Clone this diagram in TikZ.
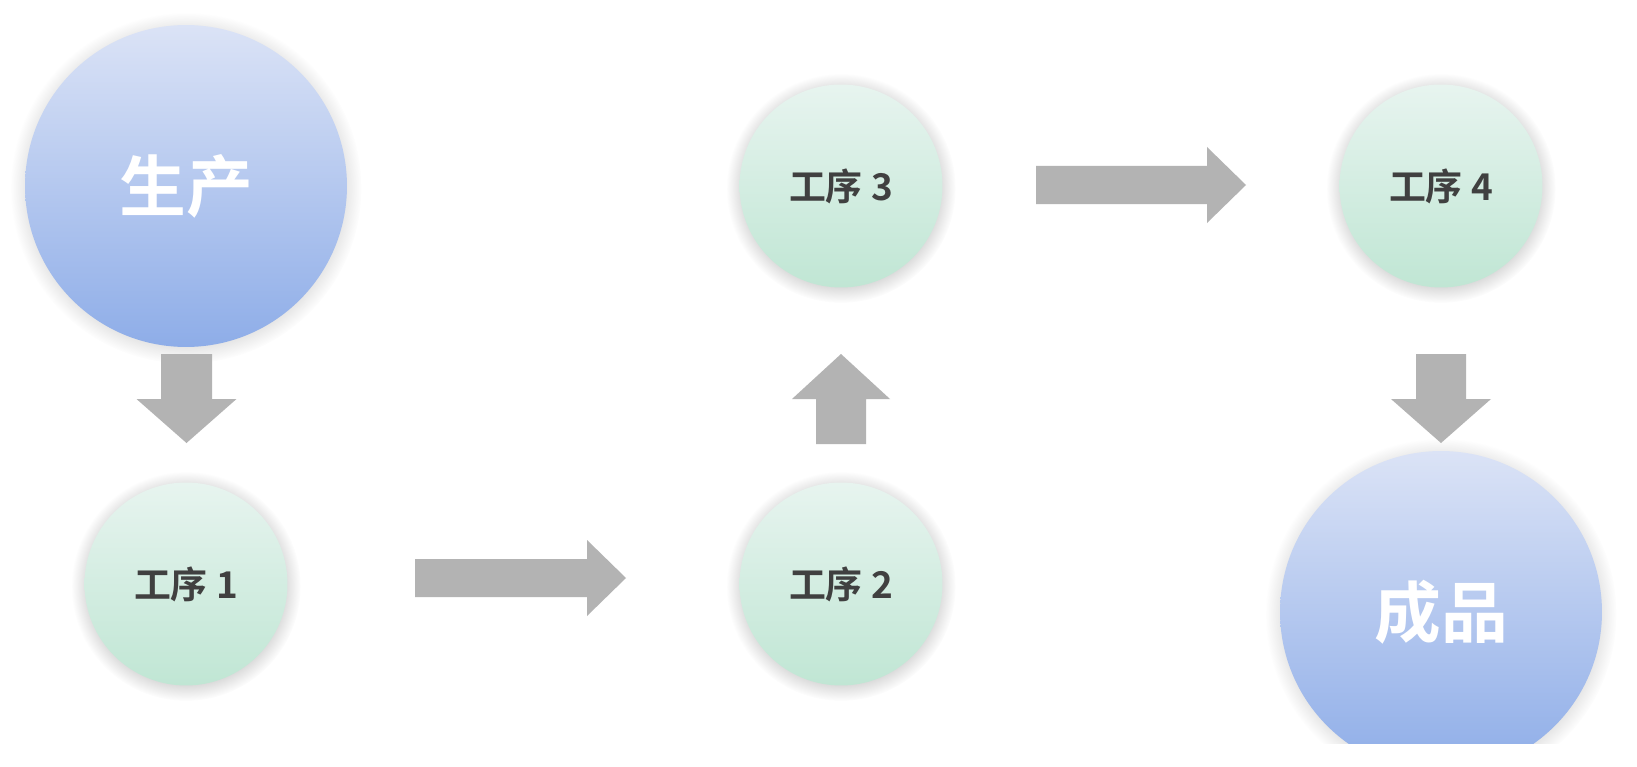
\documentclass[tikz,border=0pt]{standalone}
\usepackage{fontspec}
\newfontfamily\cjk{Noto Sans CJK SC}[BoldFont={Noto Sans CJK SC Bold}]
\usetikzlibrary{shadows,fadings}
\definecolor{bluetop}{RGB}{219,227,246}
\definecolor{bluebot}{RGB}{142,173,232}
\definecolor{greentop}{RGB}{231,244,239}
\definecolor{greenbot}{RGB}{192,230,212}
\definecolor{arrowgray}{RGB}{179,179,179}
\definecolor{textdark}{RGB}{64,64,64}
\tikzset{
  bigstep/.style={circle, minimum size=6.44cm, inner sep=0pt,
    top color=bluetop, bottom color=bluebot, text=white,
    font=\cjk\bfseries\fontsize{38}{42}\selectfont,
    circular drop shadow={shadow xshift=0pt, shadow yshift=-0.04cm,
      shadow scale=1.09, fill=black, opacity=0.15}},
  smallstep/.style={circle, minimum size=4.06cm, inner sep=0pt,
    top color=greentop, bottom color=greenbot, text=textdark,
    font=\cjk\bfseries\fontsize{21}{24}\selectfont,
    circular drop shadow={shadow xshift=0pt, shadow yshift=-0.04cm,
      shadow scale=1.13, fill=black, opacity=0.15}},
  pics/blockarrow/.style n args={4}{code={
    \fill[arrowgray] (0,-#3) -- (#1-#2,-#3) -- (#1-#2,-#4) -- (#1,0)
      -- (#1-#2,#4) -- (#1-#2,#3) -- (0,#3) -- cycle;}}
}
\begin{document}
\begin{tikzpicture}[x=0.02cm,y=-0.02cm]
    \useasboundingbox (0,0) rectangle (1637,767);
    \fill[white] (0,0) rectangle (1637,767);
%
    \node[bigstep] (shengchan) at (186,186) {生产};
    \node[smallstep] (gx1) at (186,584) {工序 1};
    \node[smallstep] (gx2) at (841,584) {工序 2};
    \node[smallstep] (gx3) at (841,186) {工序 3};
    \node[smallstep] (gx4) at (1441,186) {工序 4};
    \begin{scope}
        \clip (0,0) rectangle (1637,743);
        \node[bigstep] (chengpin) at (1441,612) {成品};
    \end{scope}
%
    \pic[rotate=-90] at (186.5,354) {blockarrow={89}{44}{25.5}{50}};
    \pic at (415,578) {blockarrow={211}{39}{19}{38}};
    \pic[rotate=90] at (841,444) {blockarrow={90}{45}{25}{49}};
    \pic at (1036,185) {blockarrow={210}{39}{19}{38}};
    \pic[rotate=-90] at (1441,354) {blockarrow={89}{44}{25}{50}};
\end{tikzpicture}
\end{document}
